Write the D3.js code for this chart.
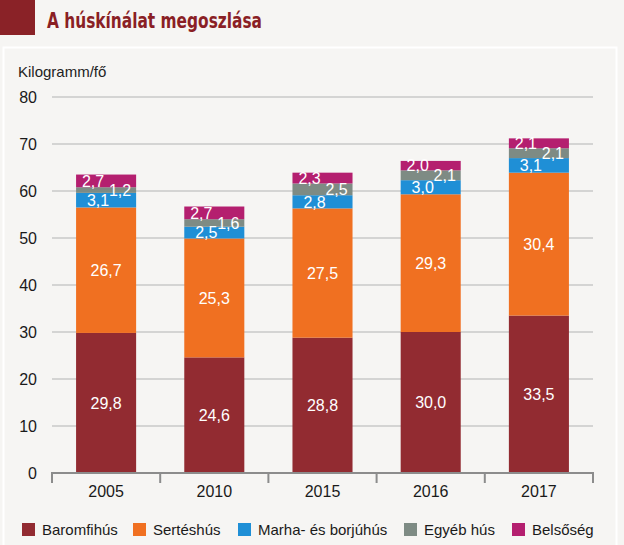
<!DOCTYPE html>
<html><head><meta charset="utf-8">
<script src="https://cdn.jsdelivr.net/npm/d3@7"></script>
<style>
html,body{margin:0;padding:0;background:#f6f5f3;}
svg{display:block;}
</style></head>
<body>
<svg id="c" width="624" height="545"></svg>
<script>
const years = ["2005", "2010", "2015", "2016", "2017"];
const seriesNames = ["Baromfihús", "Sertéshús", "Marha- és borjúhús", "Egyéb hús", "Belsőség"];
const baromfi = [29.8, 24.6, 28.8, 30.0, 33.5];
const sertes = [26.7, 25.3, 27.5, 29.3, 30.4];
const marha = [3.1, 2.5, 2.8, 3.0, 3.1];
const egyeb = [1.2, 1.6, 2.5, 2.1, 2.1];
const belsoseg = [2.7, 2.7, 2.3, 2.0, 2.1];
const yTicks = [0, 10, 20, 30, 40, 50, 60, 70, 80];

const colors = ["#922b31", "#f07021", "#1f8fd6", "#7e8b84", "#b41f6f"];
const labelDx = [0, 0, -8, 14, -13];
const legendX = [22, 133, 238, 404, 512];

const svg = d3.select("#c");
const W = 624, H = 545;

svg.append("rect").attr("width", W).attr("height", H).attr("fill", "#f6f5f3");
// panel
svg.append("rect").attr("x", 3.5).attr("y", 47.5).attr("width", 613).attr("height", 510)
  .attr("fill", "#f6f5f3").attr("stroke", "#ffffff").attr("stroke-width", 2);
// title
svg.append("rect").attr("x", 0).attr("y", 0).attr("width", 35).attr("height", 35).attr("fill", "#8a2227");
svg.append("text").attr("x", 47).attr("y", 28)
  .attr("font-family", "'Liberation Sans Narrow','Arial Narrow','DejaVu Sans Condensed',sans-serif")
  .attr("font-weight", "bold").attr("font-size", 22).attr("fill", "#8a1f25")
  .attr("textLength", 215).attr("lengthAdjust", "spacingAndGlyphs")
  .text("A húskínálat megoszlása");

const font = "'Liberation Sans', Arial, sans-serif";

const x = d3.scaleBand().domain(years).range([52, 593]).paddingInner(0.445).paddingOuter(0.2225);
const y = d3.scaleLinear().domain([0, 80]).range([473, 97]);

// unit label
svg.append("text").attr("x", 18).attr("y", 77).attr("font-family", font).attr("font-size", 15)
  .attr("fill", "#222").text("Kilogramm/fő");

// gridlines
svg.append("g").selectAll("line").data(yTicks.filter(d => d > 0)).join("line")
  .attr("x1", 52).attr("x2", 593).attr("y1", d => y(d)).attr("y2", d => y(d))
  .attr("stroke", "#c9c9c9").attr("stroke-width", 1.5);

// y axis labels
const yAxis = d3.axisLeft(y).tickValues(yTicks).tickSize(0).tickPadding(0).tickFormat(d3.format("d"));
const gy = svg.append("g").attr("transform", "translate(37,0)").call(yAxis);
gy.select(".domain").remove();
gy.selectAll("text").attr("font-family", font).attr("font-size", 16).attr("fill", "#1a1a1a");

// stacked data
const seriesVals = [baromfi, sertes, marha, egyeb, belsoseg];
const rows = years.map((yr, i) => {
  const o = {year: yr};
  seriesNames.forEach((s, k) => o[s] = seriesVals[k][i]);
  return o;
});
const stack = d3.stack().keys(seriesNames)(rows);

const gBars = svg.append("g");
stack.forEach((layer, k) => {
  gBars.append("g").attr("fill", colors[k]).selectAll("rect").data(layer).join("rect")
    .attr("x", d => x(d.data.year)).attr("width", x.bandwidth())
    .attr("y", d => y(d[1])).attr("height", d => y(d[0]) - y(d[1]));
});
// labels
const fmt = v => d3.format(".1f")(v).replace(".", ",");
stack.forEach((layer, k) => {
  svg.append("g").selectAll("text").data(layer).join("text")
    .attr("x", d => x(d.data.year) + x.bandwidth() / 2 + labelDx[k])
    .attr("y", d => (y(d[0]) + y(d[1])) / 2)
    .attr("dy", "0.36em")
    .attr("text-anchor", "middle").attr("font-family", font).attr("font-size", 16)
    .attr("fill", "#ffffff")
    .text(d => fmt(d[1] - d[0]));
});

// x axis
const gx = svg.append("g");
gx.append("line").attr("x1", 52).attr("x2", 593).attr("y1", 473).attr("y2", 473)
  .attr("stroke", "#8c8c8c").attr("stroke-width", 2);
const bounds = years.map(yr => x(yr) - x.step() * x.paddingInner() / 2).concat([593]);
gx.selectAll("line.t").data(bounds).join("line").attr("class", "t")
  .attr("x1", d => d).attr("x2", d => d).attr("y1", 472).attr("y2", 483)
  .attr("stroke", "#8c8c8c").attr("stroke-width", 2);
const xAxis = d3.axisBottom(x).tickSize(0).tickPadding(0);
const gxl = svg.append("g").attr("transform", "translate(0,497)").call(xAxis);
gxl.select(".domain").remove();
gxl.selectAll("text").attr("dy", 0).attr("font-family", font).attr("font-size", 16).attr("fill", "#1a1a1a");

// legend
const lg = svg.append("g");
seriesNames.forEach((s, k) => {
  lg.append("rect").attr("x", legendX[k]).attr("y", 523).attr("width", 13).attr("height", 13).attr("fill", colors[k]);
  lg.append("text").attr("x", legendX[k] + 20).attr("y", 535).attr("font-family", font)
    .attr("font-size", 15).attr("fill", "#1a1a1a").text(s);
});
</script>
</body></html>
